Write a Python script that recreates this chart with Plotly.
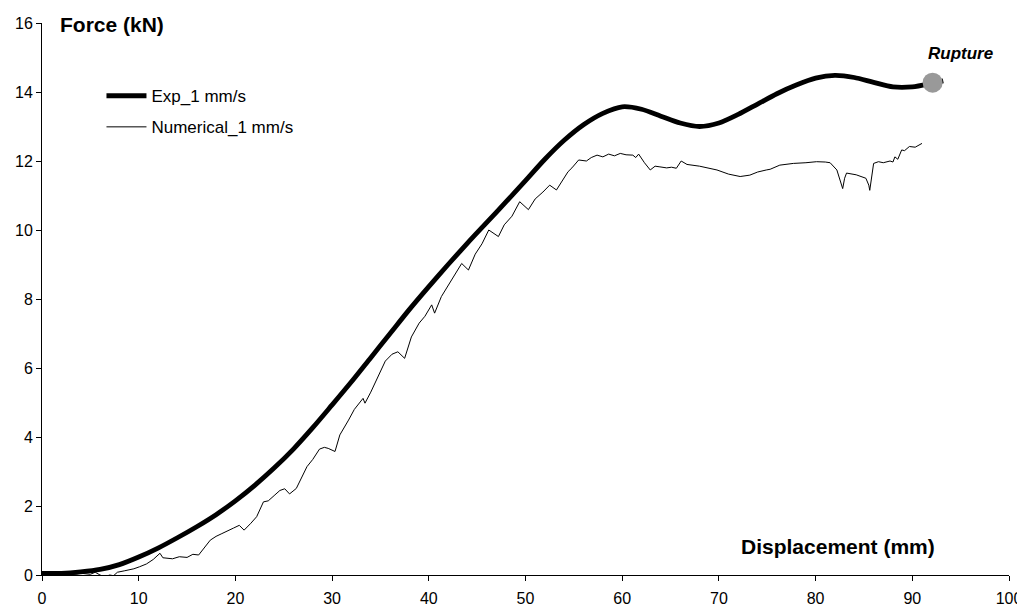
import plotly.graph_objects as go

# Experimental curve (1 mm/s)
exp_disp = [0, 2, 4, 6, 8, 10, 12, 14, 16, 18, 20, 22, 24, 26, 28, 30, 32, 34, 36, 38,
            40, 42, 44, 46, 48, 50, 52, 54, 56, 58, 60, 62, 64, 66, 68, 70, 72, 74, 76,
            78, 80, 82, 84, 86, 88, 90, 92, 93.2]
exp_force = [0.05, 0.05, 0.09, 0.16, 0.3, 0.52, 0.78, 1.08, 1.4, 1.75, 2.15, 2.6, 3.1, 3.65,
             4.27, 4.93, 5.6, 6.3, 7.0, 7.7, 8.36, 9.0, 9.62, 10.22, 10.82, 11.43, 12.05,
             12.6, 13.05, 13.38, 13.57, 13.5, 13.3, 13.1, 13.0, 13.1, 13.35, 13.65, 13.95,
             14.2, 14.4, 14.48, 14.42, 14.28, 14.15, 14.15, 14.25, 14.32]

# Numerical curve (1 mm/s)
num_disp = [0, 1, 2, 3, 4, 5, 5.5, 6, 6.5, 7, 7.4, 7.8, 8.5, 9, 9.5, 10.1, 10.8, 11.5, 12.2,
            12.5, 13.5, 14.2, 15.0, 15.6, 16.2, 17.4, 18.0, 18.6, 19.1, 19.8, 20.4, 20.9,
            21.6, 22.2, 22.9, 23.4, 24.0, 24.6, 25.1, 25.6, 26.3, 26.8, 27.4, 28.0, 28.7,
            29.2, 29.6, 30.3, 30.8, 31.7, 32.3, 33.2, 33.4, 34.0, 34.8, 35.5, 36.2, 36.8,
            37.5, 38.2, 39.0, 39.6, 40.3, 40.6, 41.3, 42.0, 42.7, 43.4, 44.1, 44.8, 45.5,
            46.2, 47.2, 47.8, 48.6, 49.4, 50.3, 51.0, 51.8, 52.5, 53.2, 54.4, 54.8, 55.5,
            56.3, 56.8, 57.4, 58.0, 58.6, 59.2, 59.8, 60.4, 61.1, 61.4, 61.7, 62.3, 62.9,
            63.4, 63.9, 64.6, 65.1, 65.6, 66.1, 66.7, 68.0, 69.0, 69.8, 71.0, 72.2, 73.2,
            74.0, 74.9, 75.3, 76.3, 77.7, 79.0, 80.1, 81.0, 81.5, 82.2, 82.5, 82.8, 83.0,
            83.2, 84.2, 85.2, 85.5, 85.6, 86.0, 86.5, 87.0, 87.7, 88.0, 88.2, 88.5, 88.9,
            89.2, 89.7, 90.3, 91.0]
num_force = [0.02, 0.0, 0.03, 0.01, 0.05, 0.02, 0.08, 0.0, -0.05, 0.0, -0.02, 0.08, 0.12,
             0.14, 0.18, 0.24, 0.32, 0.45, 0.63, 0.5, 0.47, 0.53, 0.51, 0.6, 0.58, 1.01,
             1.12, 1.2, 1.26, 1.36, 1.44, 1.3, 1.5, 1.69, 2.12, 2.15, 2.3, 2.45, 2.5, 2.35,
             2.51, 2.8, 3.14, 3.35, 3.65, 3.7, 3.67, 3.58, 4.06, 4.49, 4.8, 5.12, 4.98, 5.3,
             5.8, 6.2, 6.4, 6.47, 6.28, 6.9, 7.3, 7.5, 7.83, 7.59, 8.07, 8.4, 8.7, 9.03, 8.84,
             9.3, 9.6, 10.0, 9.81, 10.15, 10.4, 10.82, 10.59, 10.9, 11.1, 11.3, 11.16, 11.69,
             11.8, 12.03, 12.0, 12.1, 12.17, 12.12, 12.2, 12.15, 12.22, 12.18, 12.17, 12.1,
             12.2, 11.95, 11.74, 11.85, 11.83, 11.8, 11.82, 11.79, 12.0, 11.9, 11.85, 11.8,
             11.74, 11.62, 11.55, 11.59, 11.68, 11.74, 11.76, 11.88, 11.93, 11.95, 11.98,
             11.97, 11.95, 11.74, 11.5, 11.2, 11.5, 11.65, 11.6, 11.5, 11.3, 11.15, 11.93,
             11.98, 11.95, 12.0, 11.97, 12.12, 12.05, 12.32, 12.3, 12.42, 12.4, 12.51]

# Rupture point
rupture_disp = [92.1]
rupture_force = [14.27]

x_ticks = [0, 10, 20, 30, 40, 50, 60, 70, 80, 90, 100]
y_ticks = [0, 2, 4, 6, 8, 10, 12, 14, 16]

FONT = "Arial, Liberation Sans, sans-serif"

fig = go.Figure()

fig.add_trace(go.Scatter(
    x=exp_disp, y=exp_force, mode="lines", name="Exp_1 mm/s",
    line=dict(color="black", width=4.8, shape="spline", smoothing=0.8),
    legendgroup="exp"
))
fig.add_trace(go.Scatter(
    x=num_disp, y=num_force, mode="lines", name="Numerical_1 mm/s",
    line=dict(color="black", width=1),
    legendgroup="num"
))
fig.add_trace(go.Scatter(
    x=rupture_disp, y=rupture_force, mode="markers", showlegend=False,
    marker=dict(size=20, color="#999999")
))

fig.add_annotation(x=rupture_disp[0], y=rupture_force[0], xref="x", yref="y",
                   text="<b><i>Rupture</i></b>", showarrow=False, xshift=28, yshift=29,
                   font=dict(family=FONT, size=17, color="black"))
fig.add_annotation(x=0.0165, y=0.998, xref="paper", yref="paper", text="<b>Force (kN)</b>",
                   showarrow=False, xanchor="left", yanchor="middle",
                   font=dict(family=FONT, size=21, color="black"))
fig.add_annotation(x=0.9256, y=0.0513, xref="paper", yref="paper",
                   text="<b>Displacement (mm)</b>", showarrow=False,
                   xanchor="right", yanchor="middle",
                   font=dict(family=FONT, size=21, color="black"))

# page body has an 8px margin, so the figure is sized/margined to land on the same pixels
fig.update_layout(
    width=1017, height=599,
    margin=dict(l=34, r=16, t=15, b=32),
    plot_bgcolor="white", paper_bgcolor="white",
    font=dict(family=FONT, size=16, color="black"),
    showlegend=True,
    legend=dict(x=0.0615, y=0.90, xanchor="left", yanchor="top",
                bgcolor="rgba(0,0,0,0)", itemwidth=40, tracegroupgap=6,
                traceorder="grouped", font=dict(family=FONT, size=17)),
)
fig.update_xaxes(range=[0, 100], tickvals=x_ticks, showgrid=False, zeroline=False,
                 showline=True, linecolor="black", linewidth=1, automargin=False,
                 ticks="outside", ticklen=5, tickcolor="black", ticklabelstandoff=4,
                 tickfont=dict(family=FONT, size=16))
fig.update_yaxes(range=[0, 16], tickvals=y_ticks, showgrid=False, zeroline=False,
                 showline=True, linecolor="black", linewidth=1, automargin=False,
                 ticks="outside", ticklen=5, tickcolor="black",
                 tickfont=dict(family=FONT, size=16))

fig.write_html("out.html")
